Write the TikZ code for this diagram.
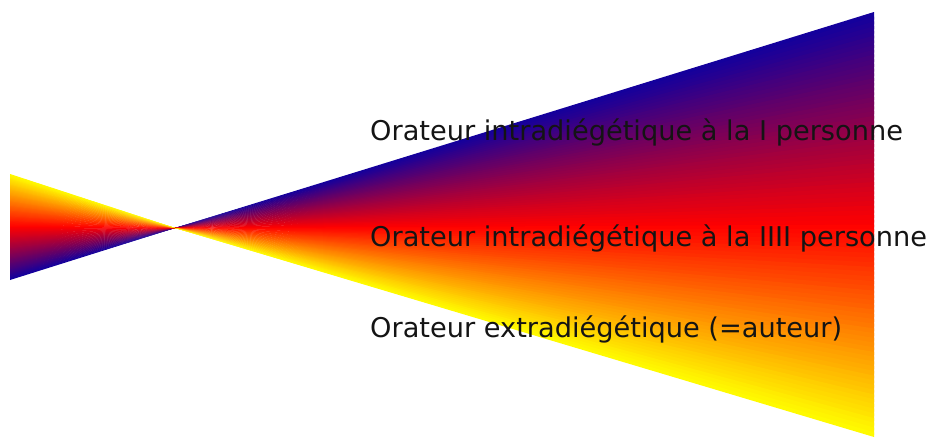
\documentclass[tikz,border=0pt]{standalone}
\usepackage{fontspec}
\setmainfont{DejaVu Sans}
\usepackage{xcolor}
\usepackage{tikz}
\definecolor{fanblue}{HTML}{12009E}
\definecolor{fanred}{HTML}{FF0000}
\definecolor{fanyellow}{HTML}{FFFF00}

\begin{document}
\begin{tikzpicture}[x=1pt,y=-1pt,
  voice/.style={anchor=base west,inner sep=0pt,text=black!92,
                font=\fontsize{27.2}{30}\selectfont}]
  \useasboundingbox (0,0) rectangle (944,439);
  \coordinate (apex) at (175,228);
  % bow tie through the apex, coloured slice by slice (blue - red - yellow)
  \foreach \i in {0,...,89}{
    \pgfmathsetmacro{\ta}{\i/90}
    \pgfmathsetmacro{\tb}{min((\i+1.6)/90,1)}
    \ifnum\i<45
      \pgfmathtruncatemacro{\p}{(\i+0.5)/45*100}
      \colorlet{slice}{fanred!\p!fanblue}
    \else
      \pgfmathtruncatemacro{\p}{(\i-44.5)/45*100}
      \colorlet{slice}{fanyellow!\p!fanred}
    \fi
    \fill[slice] (apex) -- (874,{12+425*\ta}) -- (874,{12+425*\tb}) -- cycle
                 (apex) -- (10,{280-106*\ta}) -- (10,{280-106*\tb}) -- cycle;
  }
  \node[voice] (first) at (370,140) {Orateur intradiégétique à la I personne};
  \node[voice] (third) at (370,246) {Orateur intradiégétique à la IIII personne};
  \node[voice] (author) at (370,337) {Orateur extradiégétique (=auteur)};
\end{tikzpicture}
\end{document}
